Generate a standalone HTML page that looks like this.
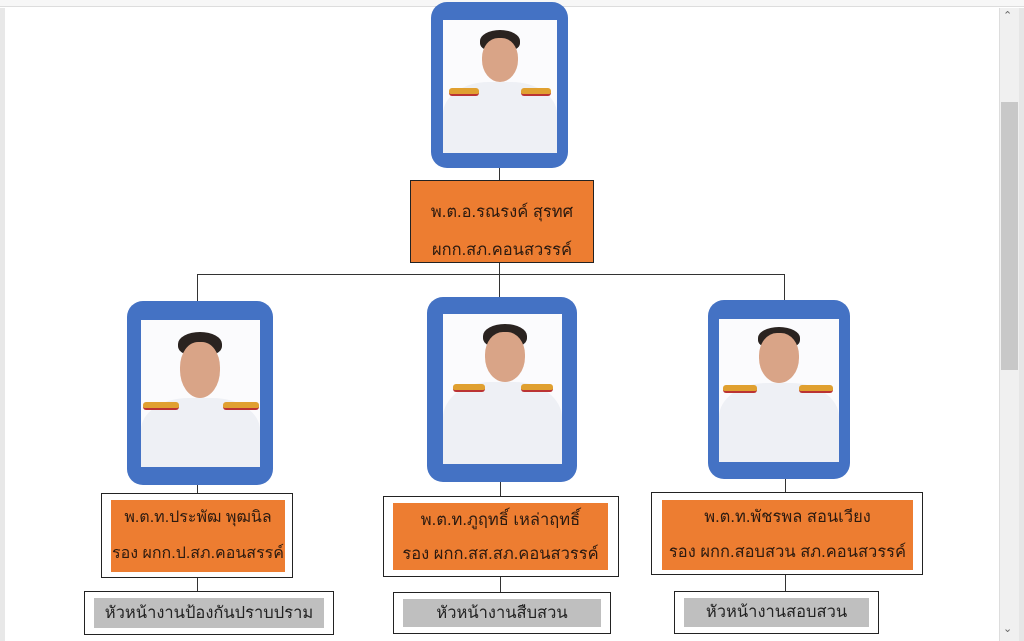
<!DOCTYPE html>
<html><head><meta charset="utf-8"><style>
*{margin:0;padding:0;box-sizing:border-box}
body{width:1024px;height:641px;overflow:hidden;background:#fff;position:relative;font-family:"Liberation Sans","DejaVu Sans",sans-serif}
.a{position:absolute}
.frame{position:absolute;background:#4472c4;border-radius:16px}
.inner{position:absolute;background:#fbfbfd;overflow:hidden}
.hair{position:absolute;background:#2a2320;border-radius:50% 50% 40% 40%}
.face{position:absolute;background:#d9a487;border-radius:45% 45% 50% 50%}
.body{position:absolute;background:#eef0f5;border-radius:40% 40% 0 0}
.ep{position:absolute;background:#e0a030;height:8px;border-radius:3px;border-bottom:2px solid #b33}
.box{position:absolute;border:1px solid #222;background:#fff}
.or{position:absolute;background:#ed7d31;color:#2b1a10;text-align:center;font-size:16.5px;white-space:nowrap;overflow:visible}
.gr{position:absolute;background:#bfbfbf;color:#222;text-align:center;font-size:16.5px;white-space:nowrap}
.l{position:absolute;background:#333}
</style></head><body>
<div class="a" style="left:0;top:0;width:1024px;height:7px;background:#f7f7f7;border-bottom:1px solid #ddd"></div>
<div class="a" style="left:0;top:8px;width:5px;height:633px;background:#e8e8e8"></div>
<div class="a" style="left:999px;top:8px;width:20px;height:633px;background:#f0f0f0;border-left:1px solid #ddd"></div>
<div class="a" style="left:1019px;top:8px;width:5px;height:633px;background:#e6e6e6"></div>
<div class="a" style="left:1001px;top:102px;width:17px;height:268px;background:#c8c8c8"></div>
<div class="a" style="left:1003px;top:9px;font-size:11px;color:#666">&#8963;</div>
<div class="a" style="left:1003px;top:622px;font-size:11px;color:#666">&#8964;</div>

<div class="l" style="left:499px;top:168px;width:1px;height:12px"></div>
<div class="l" style="left:499px;top:263px;width:1px;height:34px"></div>
<div class="l" style="left:197px;top:274px;width:588px;height:1px"></div>
<div class="l" style="left:197px;top:274px;width:1px;height:27px"></div>
<div class="l" style="left:784px;top:274px;width:1px;height:26px"></div>
<div class="l" style="left:197px;top:485px;width:1px;height:8px"></div>
<div class="l" style="left:500px;top:482px;width:1px;height:14px"></div>
<div class="l" style="left:785px;top:479px;width:1px;height:13px"></div>
<div class="l" style="left:197px;top:578px;width:1px;height:14px"></div>
<div class="l" style="left:500px;top:577px;width:1px;height:15px"></div>
<div class="l" style="left:785px;top:575px;width:1px;height:17px"></div>

<div class="frame" style="left:431px;top:2px;width:137px;height:166px"></div>
<div class="inner" style="left:443px;top:20px;width:114px;height:133px">
 <div class="body" style="left:0;top:62px;width:114px;height:80px"></div>
 <div class="ep" style="left:6px;top:68px;width:30px"></div><div class="ep" style="left:78px;top:68px;width:30px"></div>
 <div class="hair" style="left:37px;top:10px;width:40px;height:22px"></div>
 <div class="face" style="left:39px;top:18px;width:36px;height:44px"></div>
</div>
<div class="or" style="left:410px;top:180px;width:184px;height:83px;border:1px solid #222;padding-top:12px;line-height:38px">พ.ต.อ.รณรงค์ สุรทศ<br>ผกก.สภ.คอนสวรรค์</div>

<div class="frame" style="left:127px;top:301px;width:146px;height:184px"></div>
<div class="inner" style="left:141px;top:320px;width:119px;height:147px">
 <div class="body" style="left:0;top:78px;width:119px;height:80px"></div>
 <div class="ep" style="left:2px;top:82px;width:36px"></div><div class="ep" style="left:82px;top:82px;width:36px"></div>
 <div class="hair" style="left:37px;top:12px;width:44px;height:24px"></div>
 <div class="face" style="left:39px;top:22px;width:40px;height:56px"></div>
</div>
<div class="frame" style="left:427px;top:297px;width:150px;height:185px"></div>
<div class="inner" style="left:443px;top:314px;width:119px;height:150px">
 <div class="body" style="left:0;top:68px;width:119px;height:90px"></div>
 <div class="ep" style="left:10px;top:70px;width:32px"></div><div class="ep" style="left:78px;top:70px;width:32px"></div>
 <div class="hair" style="left:40px;top:10px;width:44px;height:24px"></div>
 <div class="face" style="left:42px;top:18px;width:40px;height:50px"></div>
</div>
<div class="frame" style="left:708px;top:300px;width:142px;height:179px"></div>
<div class="inner" style="left:719px;top:319px;width:120px;height:143px">
 <div class="body" style="left:0;top:64px;width:120px;height:85px"></div>
 <div class="ep" style="left:4px;top:66px;width:34px"></div><div class="ep" style="left:80px;top:66px;width:34px"></div>
 <div class="hair" style="left:39px;top:8px;width:42px;height:22px"></div>
 <div class="face" style="left:40px;top:14px;width:40px;height:50px"></div>
</div>

<div class="box" style="left:101px;top:493px;width:192px;height:85px"></div>
<div class="or" style="left:111px;top:500px;width:174px;height:72px;line-height:36px;font-size:16px">พ.ต.ท.ประพัฒ พุฒนิล<br>รอง ผกก.ป.สภ.คอนสรรค์</div>
<div class="box" style="left:383px;top:496px;width:236px;height:81px"></div>
<div class="or" style="left:393px;top:503px;width:215px;height:67px;line-height:34px">พ.ต.ท.ภูฤทธิ์ เหล่าฤทธิ์<br>รอง ผกก.สส.สภ.คอนสวรรค์</div>
<div class="box" style="left:651px;top:492px;width:272px;height:83px"></div>
<div class="or" style="left:662px;top:500px;width:251px;height:70px;line-height:35px">พ.ต.ท.พัชรพล สอนเวียง<br>รอง ผกก.สอบสวน สภ.คอนสวรรค์</div>

<div class="box" style="left:84px;top:591px;width:250px;height:44px"></div>
<div class="gr" style="left:94px;top:598px;width:230px;height:30px;line-height:30px">หัวหน้างานป้องกันปราบปราม</div>
<div class="box" style="left:393px;top:592px;width:218px;height:42px"></div>
<div class="gr" style="left:403px;top:599px;width:198px;height:28px;line-height:28px">หัวหน้างานสืบสวน</div>
<div class="box" style="left:674px;top:591px;width:205px;height:43px"></div>
<div class="gr" style="left:684px;top:598px;width:185px;height:29px;line-height:29px">หัวหน้างานสอบสวน</div>
</body></html>
